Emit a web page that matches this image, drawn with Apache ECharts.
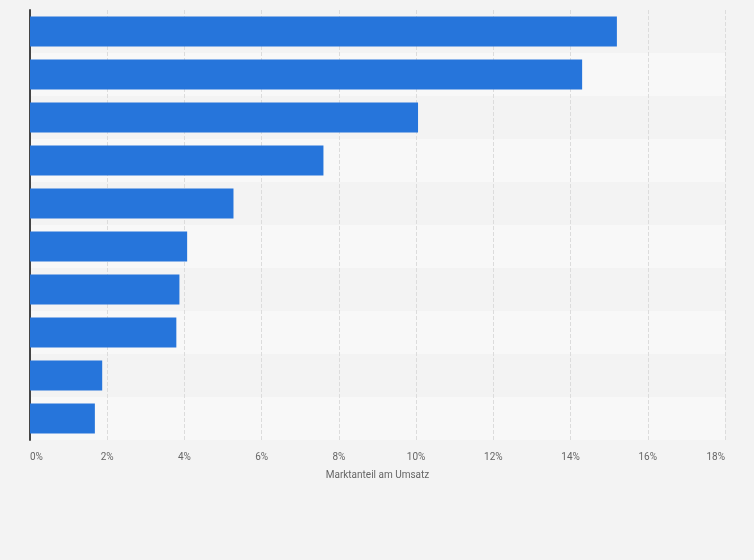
<!doctype html>
<html>
<head>
<meta charset="utf-8">
<style>
html,body{margin:0;padding:0;background:#f3f3f3}
#chart{width:754px;height:560px}
</style>
</head>
<body>
<div id="chart"></div>
<script src="https://cdn.jsdelivr.net/npm/echarts@6/dist/echarts.min.js"></script>
<script>
var categories = ['1', '2', '3', '4', '5', '6', '7', '8', '9', '10'];
var shares = [15.2, 14.3, 10.05, 7.6, 5.27, 4.07, 3.87, 3.79, 1.87, 1.68];
var xTicks = {min: 0, max: 18, interval: 2};

var chart = echarts.init(document.getElementById('chart'));
chart.setOption({
    backgroundColor: '#f3f3f3',
    grid: {left: 30, right: 29, top: 10, bottom: 120},
    xAxis: {
        type: 'value',
        min: xTicks.min, max: xTicks.max, interval: xTicks.interval,
        name: 'Marktanteil am Umsatz',
        nameLocation: 'middle',
        nameGap: 30,
        nameTextStyle: {color: '#666', fontSize: 10, fontFamily: 'Roboto'},
        axisLine: {show: false},
        axisTick: {show: false},
        axisLabel: {
            color: '#666', fontSize: 10, fontFamily: 'Roboto', margin: 12,
            alignMinLabel: 'left', alignMaxLabel: 'right',
            formatter: function (v) { return v + '%'; }
        },
        splitLine: {lineStyle: {color: '#dcdcdc', type: 'dashed'}}
    },
    yAxis: {
        type: 'category',
        inverse: true,
        data: categories,
        axisLine: {lineStyle: {color: '#444', width: 2}},
        axisTick: {show: false},
        axisLabel: {show: false},
        splitArea: {show: true, areaStyle: {color: ['#f3f3f3', '#f8f8f8']}}
    },
    series: [{
        type: 'bar',
        data: shares,
        barCategoryGap: '30%',
        itemStyle: {color: '#2675db'}
    }]
});
</script>
</body>
</html>
